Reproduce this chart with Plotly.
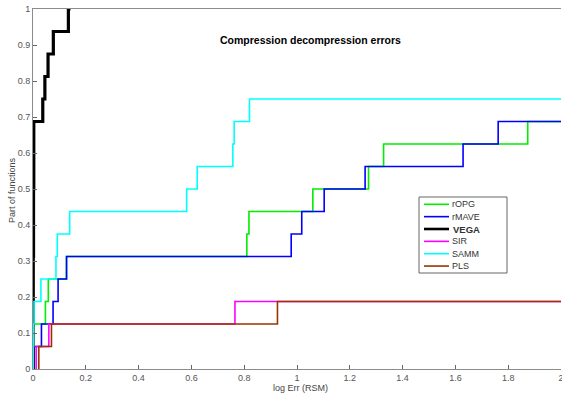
import plotly.graph_objects as go

# Sorted log errors (RSM) per method that fall inside the plotted range [0, 2];
# the remaining functions of each method have errors beyond the axis limit.
N_FUNCTIONS = 16
methods = ["rOPG", "rMAVE", "VEGA", "SIR", "SAMM", "PLS"]
rOPG = [0.000, 0.002, 0.047, 0.058, 0.127, 0.810, 0.818, 1.060, 1.271, 1.328, 1.874]
rMAVE = [0.004, 0.032, 0.076, 0.095, 0.127, 0.978, 1.018, 1.103, 1.258, 1.629, 1.762]
VEGA = [0.000, 0.000, 0.001, 0.001, 0.001, 0.002, 0.002, 0.002, 0.003, 0.003, 0.003,
        0.037, 0.045, 0.057, 0.077, 0.134]
SIR = [0.012, 0.060, 0.765]
SAMM = [0.001, 0.002, 0.004, 0.030, 0.087, 0.092, 0.139, 0.582, 0.622, 0.757, 0.762, 0.820]
PLS = [0.022, 0.070, 0.926]
errors = [rOPG, rMAVE, VEGA, SIR, SAMM, PLS]

x_ticks = [0, 0.2, 0.4, 0.6, 0.8, 1, 1.2, 1.4, 1.6, 1.8, 2]
y_ticks = [0, 0.1, 0.2, 0.3, 0.4, 0.5, 0.6, 0.7, 0.8, 0.9, 1]
X_MAX = 2

colors = {"rOPG": "#00ee00", "rMAVE": "#0000ff", "VEGA": "#000000",
          "SIR": "#ff00ff", "SAMM": "#00ffff", "PLS": "#993300"}
widths = {"rOPG": 1.6, "rMAVE": 1.6, "VEGA": 3.2, "SIR": 1.6, "SAMM": 1.6, "PLS": 1.6}

FONT = "Liberation Sans, Arial, sans-serif"
W, H = 562, 393
L, R, T, B = 33, 1, 9, 24
PW, PH = W - L - R, H - T - B


def px_x(p):
    return (p - L) / PW


def px_y(p):
    return (H - B - p) / PH


fig = go.Figure()

# Empirical distribution of the errors, drawn as a staircase
for name, vals in zip(methods, errors):
    frac = [(i + 1) / N_FUNCTIONS for i in range(len(vals))]
    # curves with errors beyond the axis keep their last level up to the edge
    end_x = X_MAX if len(vals) < N_FUNCTIONS else vals[-1] + 0.008
    xs = [vals[0]] + list(vals) + [end_x]
    ys = [0] + frac + [frac[-1]]
    fig.add_trace(go.Scatter(
        x=xs, y=ys, mode="lines", name=name, showlegend=False,
        line=dict(color=colors[name], width=widths[name], shape="hv"),
        hoverinfo="skip",
    ))

shapes = []
annotations = []

# Chart title inside the axes
annotations.append(dict(
    x=1.05, y=0.915, xref="x", yref="y", text="<b>Compression decompression errors</b>",
    showarrow=False, font=dict(family=FONT, size=10.5, color="#000000"),
    xanchor="center", yanchor="middle"))

# Axis titles
annotations.append(dict(
    x=px_x(300), y=px_y(388), xref="paper", yref="paper", text="log Err (RSM)",
    showarrow=False, font=dict(family=FONT, size=9, color="#444444"),
    xanchor="center", yanchor="middle"))
annotations.append(dict(
    x=px_x(12), y=px_y(190), xref="paper", yref="paper", text="Part of functions",
    showarrow=False, textangle=-90, font=dict(family=FONT, size=9, color="#444444"),
    xanchor="center", yanchor="middle"))

# Legend box
lx0, lx1, ly0, ly1 = 419, 507, 197, 273
shapes.append(dict(type="rect", xref="paper", yref="paper",
                   x0=px_x(lx0), x1=px_x(lx1), y0=px_y(ly1), y1=px_y(ly0),
                   line=dict(color="#666666", width=1), fillcolor="#ffffff", layer="above"))
row0, row_step = 204.3, 12.35
for i, name in enumerate(methods):
    yc = row0 + i * row_step
    shapes.append(dict(type="line", xref="paper", yref="paper",
                       x0=px_x(424), x1=px_x(449), y0=px_y(yc), y1=px_y(yc),
                       line=dict(color=colors[name], width=min(widths[name], 2.6)),
                       layer="above"))
    label = "<b>%s</b>" % name if name == "VEGA" else name
    annotations.append(dict(
        x=px_x(450 if name != "VEGA" else 451), y=px_y(yc), xref="paper", yref="paper",
        text=label, showarrow=False,
        font=dict(family=FONT, size=9 if name != "VEGA" else 9.5, color="#333333"),
        xanchor="left", yanchor="middle"))

axis_common = dict(
    showgrid=False, zeroline=False, ticks="inside", ticklen=4, tickwidth=1,
    tickcolor="#666666", linecolor="#8c8c8c", linewidth=1, showline=True,
    tickfont=dict(family=FONT, size=9, color="#555555"), automargin=False,
    ticklabeloverflow="allow",
)

fig.update_layout(
    width=W, height=H,
    margin=dict(l=L, r=R, t=T, b=B, pad=0),
    paper_bgcolor="#ffffff", plot_bgcolor="#ffffff",
    xaxis=dict(range=[0, X_MAX], tickvals=x_ticks,
               ticktext=[("%g" % v) for v in x_ticks], mirror=True, **axis_common),
    yaxis=dict(range=[0, 1], tickvals=y_ticks,
               ticktext=[("%g" % v) for v in y_ticks], **axis_common),
    shapes=shapes, annotations=annotations,
    showlegend=False,
)

fig.write_html("out.html")
